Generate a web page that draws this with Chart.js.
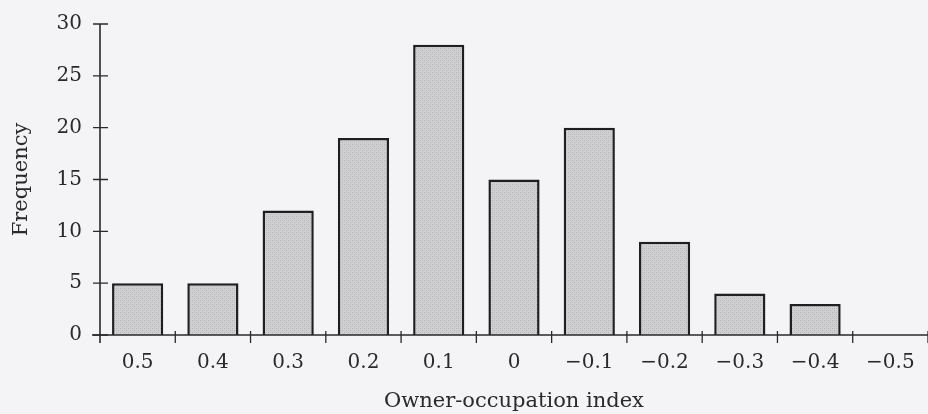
<!DOCTYPE html>
<html>
<head>
<meta charset="utf-8">
<script src="https://cdn.jsdelivr.net/npm/chart.js@4/dist/chart.umd.min.js"></script>
<style>
  html, body { margin: 0; padding: 0; background: #f4f3f6; }
  #wrap { width: 928px; height: 414px; position: relative; }
</style>
</head>
<body>
<div id="wrap"><canvas id="c"></canvas></div>
<script>
// ---- data ----
const categories = ['0.5', '0.4', '0.3', '0.2', '0.1', '0', '\u22120.1', '\u22120.2', '\u22120.3', '\u22120.4', '\u22120.5'];
const frequencies = [5, 5, 12, 19, 28, 15, 20, 9, 4, 3, 0];
const yTicks = [0, 5, 10, 15, 20, 25, 30];
const xTitle = 'Owner-occupation index';
const yTitle = 'Frequency';

// ---- styles ----
const INK = '#2a2a2a';
const FONT = 'DejaVu Serif';

function stipple() {
  const p = document.createElement('canvas');
  p.width = 4; p.height = 4;
  const g = p.getContext('2d');
  g.fillStyle = '#d0cfd1';
  g.fillRect(0, 0, 4, 4);
  g.fillStyle = '#b4b3b5';
  g.fillRect(0, 0, 1, 1);
  g.fillRect(2, 2, 1, 1);
  g.fillStyle = '#c3c2c4';
  g.fillRect(2, 0, 1, 1);
  g.fillRect(0, 2, 1, 1);
  return p.getContext('2d').createPattern(p, 'repeat');
}

const axesPlugin = {
  id: 'crossAxes',
  afterDatasetsDraw(chart) {
    const { ctx, chartArea: a, scales: { x, y } } = chart;
    ctx.save();
    ctx.strokeStyle = INK;
    ctx.lineWidth = 1.6;
    ctx.beginPath();
    // y axis line
    ctx.moveTo(a.left, y.getPixelForValue(yTicks[yTicks.length - 1]));
    ctx.lineTo(a.left, a.bottom + 8);
    // x axis line
    ctx.moveTo(a.left - 8, a.bottom);
    ctx.lineTo(chart.width, a.bottom);
    ctx.stroke();
    ctx.lineWidth = 1.3;
    ctx.beginPath();
    yTicks.forEach(v => {
      const py = y.getPixelForValue(v);
      ctx.moveTo(a.left - 7, py);
      ctx.lineTo(a.left + 8, py);
    });
    const half = (x.getPixelForValue(1) - x.getPixelForValue(0)) / 2;
    for (let i = 0; i < categories.length; i++) {
      const px = x.getPixelForValue(i) + half;
      ctx.moveTo(px, a.bottom - 4);
      ctx.lineTo(px, a.bottom + 8);
    }
    ctx.stroke();
    ctx.restore();
  }
};

new Chart(document.getElementById('c'), {
  type: 'bar',
  data: {
    labels: categories,
    datasets: [{
      data: frequencies,
      backgroundColor: stipple(),
      borderColor: '#1f1f1f',
      borderWidth: 2.5,
      borderSkipped: 'bottom',
      categoryPercentage: 1,
      barPercentage: 0.68
    }]
  },
  options: {
    responsive: true,
    maintainAspectRatio: false,
    animation: false,
    layout: { padding: { top: 24, right: 0, left: 0, bottom: 0 } },
    plugins: { legend: { display: false }, tooltip: { enabled: false } },
    scales: {
      x: {
        grid: { display: false },
        border: { display: false },
        ticks: { color: INK, font: { family: FONT, size: 20 }, padding: 8, maxRotation: 0 },
        title: { display: true, text: xTitle, color: INK, font: { family: FONT, size: 21 }, padding: { top: 0, bottom: 0 } },
        afterFit(s) { s.height = 79; }
      },
      y: {
        min: 0, max: 30,
        grid: { display: false },
        border: { display: false },
        ticks: { stepSize: 5, color: INK, font: { family: FONT, size: 20 }, padding: 10 },
        title: { display: true, text: yTitle, color: INK, font: { family: FONT, size: 21 }, padding: { top: 9, bottom: 0 } },
        afterFit(s) { s.width = 100; }
      }
    }
  },
  plugins: [axesPlugin]
});
</script>
</body>
</html>
